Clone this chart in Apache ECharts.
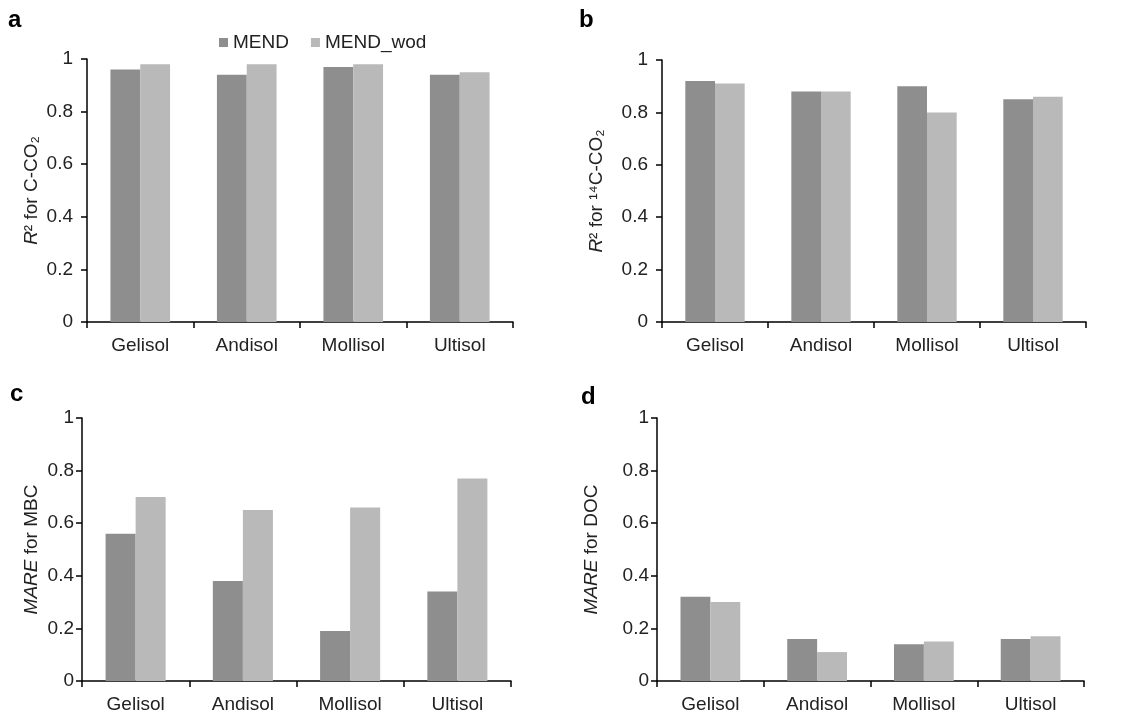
<!DOCTYPE html>
<html>
<head>
<meta charset="utf-8">
<script src="https://cdn.jsdelivr.net/npm/echarts@6/dist/echarts.min.js"></script>
<style>
  html, body { margin: 0; padding: 0; background: #fff; }
  #chart { width: 1124px; height: 714px; }
</style>
</head>
<body>
<div id="chart"></div>
<script>
// ── 数据 ──
const soils = ['Gelisol', 'Andisol', 'Mollisol', 'Ultisol'];
const seriesNames = ['MEND', 'MEND_wod'];
const yTicks = [0, 0.2, 0.4, 0.6, 0.8, 1];

const r2CO2Mend = [0.96, 0.94, 0.97, 0.94];
const r2CO2Wod = [0.98, 0.98, 0.98, 0.95];
const r2C14Mend = [0.92, 0.88, 0.90, 0.85];
const r2C14Wod = [0.91, 0.88, 0.80, 0.86];
const mareMbcMend = [0.56, 0.38, 0.19, 0.34];
const mareMbcWod = [0.70, 0.65, 0.66, 0.77];
const mareDocMend = [0.32, 0.16, 0.14, 0.16];
const mareDocWod = [0.30, 0.11, 0.15, 0.17];

const FONT = '"Liberation Sans", Arial, sans-serif';
const DARK = '#8e8e8e';
const LIGHT = '#b9b9b9';
const FS = 19;

// 面板布局
const panels = [
  { letter: 'a', grid: { left: 87, top: 59, width: 426, height: 263 }, name: '{i|R}² for C-CO₂', nameGap: 46, labelMargin: 14, data: [r2CO2Mend, r2CO2Wod], lx: 8, ly: 22 },
  { letter: 'b', grid: { left: 662, top: 60, width: 424, height: 262 }, name: '{i|R}² for ¹⁴C-CO₂', nameGap: 56, labelMargin: 14, data: [r2C14Mend, r2C14Wod], lx: 579, ly: 22 },
  { letter: 'c', grid: { left: 82, top: 418, width: 429, height: 263 }, name: '{i|MARE} for MBC', nameGap: 41, labelMargin: 8, data: [mareMbcMend, mareMbcWod], lx: 10, ly: 396 },
  { letter: 'd', grid: { left: 657, top: 418, width: 427, height: 264 }, name: '{i|MARE} for DOC', nameGap: 56, labelMargin: 8, data: [mareDocMend, mareDocWod], lx: 581, ly: 399 },
];

const axisLine = { show: true, lineStyle: { color: '#000', width: 1.5 } };

const chart = echarts.init(document.getElementById('chart'));
chart.setOption({
  animation: false,
  textStyle: { fontFamily: FONT },
  color: [DARK, LIGHT],
  legend: {
    data: seriesNames,
    left: 214, top: 28,
    icon: 'rect', itemWidth: 9, itemHeight: 9, itemGap: 22,
    textStyle: { fontSize: FS, color: '#222', fontFamily: FONT },
  },
  grid: panels.map(p => p.grid),
  xAxis: panels.map((p, i) => ({
    type: 'category', gridIndex: i, data: soils,
    axisLine,
    axisTick: { show: true, length: 6, lineStyle: { color: '#000', width: 1.5 } },
    axisLabel: { fontSize: FS, color: '#222', margin: 14, fontFamily: FONT },
  })),
  yAxis: panels.map((p, i) => ({
    type: 'value', gridIndex: i,
    min: yTicks[0], max: yTicks[yTicks.length - 1], interval: 0.2,
    axisLine,
    axisTick: { show: true, length: 6, lineStyle: { color: '#000', width: 1.5 } },
    axisLabel: { fontSize: FS, color: '#222', margin: p.labelMargin, fontFamily: FONT },
    splitLine: { show: false },
    name: p.name, nameLocation: 'middle', nameRotate: 90, nameGap: p.nameGap,
    nameTextStyle: {
      fontSize: FS, color: '#222', fontFamily: FONT,
      rich: { i: { fontStyle: 'italic', fontSize: FS, color: '#222', fontFamily: FONT } },
    },
  })),
  series: panels.flatMap((p, i) => seriesNames.map((n, k) => ({
    name: n, type: 'bar', xAxisIndex: i, yAxisIndex: i,
    data: p.data[k],
    barGap: '0%', barCategoryGap: '44%',
    itemStyle: { color: k === 0 ? DARK : LIGHT },
  }))),
  graphic: panels.map(p => ({
    type: 'text', left: p.lx, top: p.ly - 14,
    style: { text: p.letter, font: 'bold 24px ' + FONT, fill: '#000' },
  })),
});
</script>
</body>
</html>
